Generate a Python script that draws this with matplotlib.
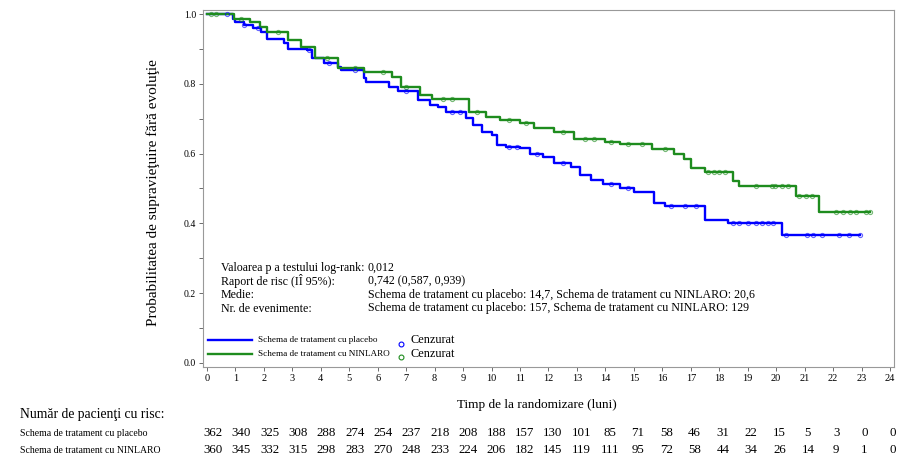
import matplotlib
matplotlib.use("Agg")
import matplotlib.pyplot as plt
import numpy as np

plt.rcParams['font.family'] = ['Liberation Serif', 'DejaVu Serif']

# Kaplan-Meier steps (time in months, survival after the step)
placebo_t = [0, 0.9, 1.0, 1.3, 1.6, 1.9, 2.1, 2.7, 2.85, 3.5, 3.7, 4.1, 4.6, 4.7,
             5.5, 5.6, 6.4, 6.7, 7.4, 7.85, 8.1, 8.4, 9.1, 9.35, 9.65, 10.0, 10.2,
             10.5, 11.0, 11.35, 11.8, 12.2, 12.8, 13.1, 13.5, 13.9, 14.5, 15.0,
             15.7, 16.1, 17.5, 18.3, 20.2, 22.95]
placebo_s = [1.0, 0.985, 0.977, 0.968, 0.96, 0.948, 0.93, 0.917, 0.90, 0.897, 0.873,
             0.86, 0.848, 0.84, 0.817, 0.805, 0.79, 0.78, 0.755, 0.74, 0.734, 0.719,
             0.702, 0.682, 0.662, 0.653, 0.625, 0.619, 0.616, 0.60, 0.59, 0.573,
             0.562, 0.539, 0.524, 0.513, 0.501, 0.49, 0.458, 0.449, 0.41, 0.40,
             0.367, 0.367]
ninlaro_t = [0, 0.95, 1.5, 1.85, 2.1, 2.85, 3.3, 3.8, 4.6, 5.5, 6.5, 6.8, 7.5, 7.9,
             9.2, 9.8, 10.3, 11.0, 11.5, 12.2, 12.9, 14.0, 14.5, 15.65, 16.4,
             16.75, 17.0, 17.5, 18.5, 18.7, 20.7, 21.5, 23.3]
ninlaro_s = [1.0, 0.986, 0.977, 0.963, 0.95, 0.925, 0.905, 0.873, 0.845, 0.835, 0.82,
             0.79, 0.768, 0.757, 0.719, 0.705, 0.696, 0.688, 0.673, 0.662, 0.642,
             0.633, 0.628, 0.614, 0.599, 0.585, 0.56, 0.546, 0.521, 0.507, 0.478,
             0.434, 0.434]

# censored observations (times)
placebo_cens = [0.7, 1.3, 1.8, 3.6, 4.3, 5.2, 7.0, 8.6, 8.9, 10.6, 10.9, 11.6, 12.5,
                14.2, 14.8, 16.3, 16.8, 17.2, 18.5, 18.7, 19.0, 19.3, 19.5, 19.7,
                19.9, 20.35, 21.1, 21.3, 21.6, 22.2, 22.55, 22.95]
ninlaro_cens = [0.15, 0.3, 1.2, 2.5, 4.2, 5.2, 6.2, 7.0, 8.3, 8.6, 9.5, 10.6, 11.2,
                12.5, 13.3, 13.6, 14.2, 14.8, 15.3, 16.1, 17.6, 17.8, 18.0, 18.2,
                19.3, 19.85, 19.95, 20.2, 20.4, 20.8, 21.05, 21.25, 22.1, 22.35,
                22.6, 22.8, 23.15, 23.3]

months = list(range(25))
risk_placebo = [362, 340, 325, 308, 288, 274, 254, 237, 218, 208, 188, 157, 130, 101,
                85, 71, 58, 46, 31, 22, 15, 5, 3, 0, 0]
risk_ninlaro = [360, 345, 332, 315, 298, 283, 270, 248, 233, 224, 206, 182, 145, 119,
                111, 95, 72, 58, 44, 34, 26, 14, 9, 1, 0]

stats_labels = ["Valoarea p a testului log-rank:", "Raport de risc (IÎ 95%):",
                "Medie:", "Nr. de evenimente:"]
stats_values = ["0,012", "0,742 (0,587, 0,939)",
                "Schema de tratament cu placebo: 14,7, Schema de tratament cu NINLARO: 20,6",
                "Schema de tratament cu placebo: 157, Schema de tratament cu NINLARO: 129"]

blue = '#0000ff'
green = '#1e8c1e'
W, H = 920, 465


def step_value(ts, ss, t):
    i = np.searchsorted(ts, t, side='right') - 1
    return np.array(ss)[i]


def fx(px):
    return px / W


def fy(py):
    return 1 - py / H


fig = plt.figure(figsize=(9.2, 4.65), dpi=100)
ax = fig.add_axes([fx(203), fy(367), (894 - 203) / W, (367 - 10) / H])

ax.plot(placebo_t, placebo_s, drawstyle='steps-post', color=blue, lw=1.7)
ax.plot(ninlaro_t, ninlaro_s, drawstyle='steps-post', color=green, lw=1.7)
ax.plot(placebo_cens, step_value(placebo_t, placebo_s, placebo_cens), 'o', ms=3,
        mfc='none', mec=blue, mew=0.8, alpha=0.6)
ax.plot(ninlaro_cens, step_value(ninlaro_t, ninlaro_s, ninlaro_cens), 'o', ms=3,
        mfc='none', mec=green, mew=0.8, alpha=0.6)

ax.set_xlim(-0.14, 24.14)
ax.set_ylim(-0.012, 1.012)
ax.set_xticks(months)
ax.set_yticks(np.arange(0, 1.01, 0.2))
ax.set_yticks(np.arange(0.1, 1.0, 0.2), minor=True)
ax.set_yticklabels(["0.0", "0.2", "0.4", "0.6", "0.8", "1.0"])
ax.tick_params(axis='both', which='both', direction='out', length=3, width=0.6,
               color='#555555', labelsize=7, pad=2)
ax.tick_params(axis='x', labelsize=7.5)
for sp in ax.spines.values():
    sp.set_color('#999999')
    sp.set_linewidth(0.8)

# stats box inside the plot
for i, (lab, val) in enumerate(zip(stats_labels, stats_values)):
    y = 268 + i * 13.5
    fig.text(fx(221), fy(y), lab, fontsize=8.6, va='center')
    fig.text(fx(368), fy(y), val, fontsize=8.6, va='center')

# legend
for py, col, lab in [(340, blue, "Schema de tratament cu placebo"),
                     (354, green, "Schema de tratament cu NINLARO")]:
    ax.plot([fx(208), fx(252)], [fy(py), fy(py)], color=col, lw=1.7,
            transform=fig.transFigure, clip_on=False)
    fig.text(fx(258), fy(py), lab, fontsize=6.6, va='center')
for py_m, py_t, col in [(344, 340, blue), (357, 354, green)]:
    ax.plot([fx(401)], [fy(py_m)], 'o', ms=3.5, mfc='none', mec=col, mew=0.8,
            transform=fig.transFigure, clip_on=False)
    fig.text(fx(411), fy(py_t), "Cenzurat", fontsize=8.8, va='center')

fig.text(fx(153), fy(193), "Probabilitatea de supravieţuire fără evoluţie",
         rotation=90, fontsize=11, ha='center', va='center')
fig.text(fx(537), fy(405), "Timp de la randomizare (luni)", fontsize=9.5,
         ha='center', va='center')

# risk table
fig.text(fx(20), fy(414), "Număr de pacienţi cu risc:", fontsize=9.8, va='center')
fig.text(fx(20), fy(433), "Schema de tratament cu placebo", fontsize=7, va='center')
fig.text(fx(20), fy(450), "Schema de tratament cu NINLARO", fontsize=7, va='center')
for m, a, b in zip(months, risk_placebo, risk_ninlaro):
    xp = 213 + m * 28.33
    fig.text(fx(xp), fy(433), str(a), fontsize=9.3, ha='center', va='center')
    fig.text(fx(xp), fy(450), str(b), fontsize=9.3, ha='center', va='center')

fig.savefig("out.png", dpi=100)
